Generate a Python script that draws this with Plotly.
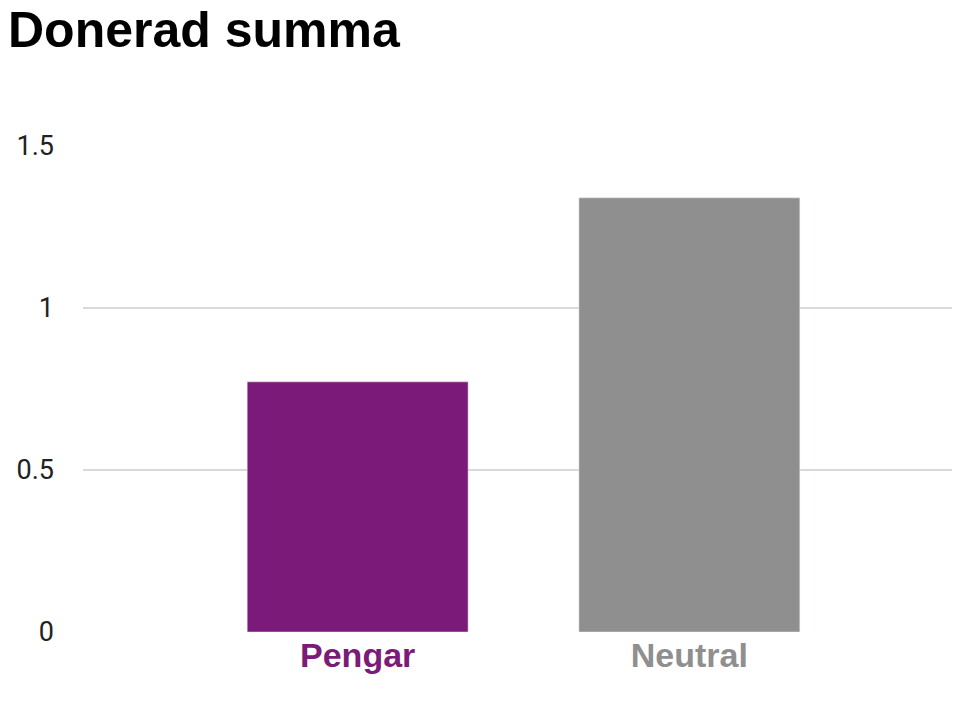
import plotly.graph_objects as go

categories = ["Pengar", "Neutral"]
values = [0.772, 1.34]
colors = ["#7b1a78", "#8f8f8f"]
tick_vals = [0, 0.5, 1, 1.5]
tick_text = ["0", "0.5", "1", "1.5"]

fig = go.Figure(go.Bar(x=[0, 1], y=values, marker_color=colors, width=0.666))
fig.update_layout(
    width=960, height=701, plot_bgcolor="white", paper_bgcolor="white",
    margin=dict(l=75, r=0, t=138, b=77), showlegend=False,
    title=dict(text="<b>Donerad summa</b>", x=0, xref="container", y=0.995, yref="container",
               yanchor="top", xanchor="left", font=dict(family="Liberation Sans", size=50, color="black")),
)
fig.update_xaxes(range=[-0.828, 1.84], tickvals=[0, 1],
                 ticktext=[f"<b><span style='color:{c}'>{t}</span></b>" for t, c in zip(categories, colors)],
                 tickfont=dict(family="Liberation Sans", size=34), showgrid=False, zeroline=False, ticks="")
fig.update_yaxes(range=[0, 1.5], tickvals=tick_vals, ticktext=tick_text, gridcolor="#d9d9d9", gridwidth=1.5,
                 zeroline=False, tickfont=dict(family="Roboto", size=27, color="#222"), ticklabelstandoff=28)
fig.write_html("out.html")
